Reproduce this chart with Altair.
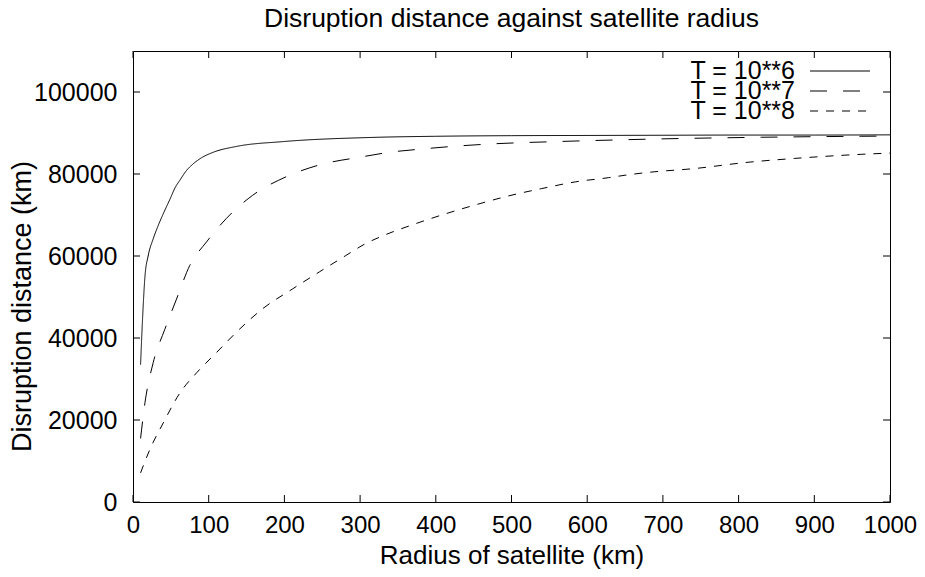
import altair as alt
import pandas as pd

# ---- data ----
series_labels = ["T = 10**6", "T = 10**7", "T = 10**8"]

x_t6 = [10, 12.7, 15.8, 20, 26.7, 33, 39, 48.7, 56, 62, 70, 79, 90, 106, 136, 198, 312, 400, 500, 600, 700,
        800, 900, 1000]
y_t6 = [33500, 45000, 55000, 60000, 64200, 67300, 69900, 73800, 76800, 78500, 80700, 82400, 83900, 85300,
        86700, 87900, 88900, 89200, 89350, 89400, 89450, 89500, 89500, 89550]

x_t7 = [10, 15.8, 26.7, 42, 57.5, 75, 97, 123, 158, 202, 246, 303, 339, 382, 427, 470, 558, 606, 694, 830, 962, 1000]
y_t7 = [15500, 24200, 34000, 42100, 49500, 57700, 63400, 69100, 74800, 79300, 82200, 84200, 85300, 86100,
        86800, 87300, 87900, 88150, 88550, 88960, 89200, 89250]

x_t8 = [10, 22, 40, 62, 84, 110, 141, 171, 211, 246, 281, 307, 329, 369, 413, 453, 496, 540, 585, 628, 650,
        681, 743, 809, 874, 962, 1000]
y_t8 = [7100, 12700, 19300, 26600, 31500, 36400, 42200, 47100, 52000, 56100, 60100, 63000, 64850, 67600,
        70300, 72500, 74650, 76450, 78100, 79100, 79700, 80400, 81350, 82800, 83800, 84800, 85100]

x_ticks = [0, 100, 200, 300, 400, 500, 600, 700, 800, 900, 1000]
y_ticks = [0, 20000, 40000, 60000, 80000, 100000]

title_text = "Disruption distance against satellite radius"
x_title = "Radius of satellite (km)"
y_title = "Disruption distance (km)"

# ---- layout / style ----
FONT = "Liberation Sans, Arial, sans-serif"
W, H = 757, 451
TICK = 7
dashes = [[1, 0], [17, 16], [8, 8]]

rows = []
for lab, xs, ys in zip(series_labels, [x_t6, x_t7, x_t8], [y_t6, y_t7, y_t8]):
    for a, b in zip(xs, ys):
        rows.append({"series": lab, "r": a, "d": b})
df = pd.DataFrame(rows)

xscale = alt.Scale(domain=[0, 1000], nice=False, zero=False)
yscale = alt.Scale(domain=[0, 110000], nice=False)

x_axis = alt.Axis(values=x_ticks, format="d", title=x_title, labelPadding=11, labelFontSize=24,
                  labelOverlap=False, labelFlush=False, titleFontSize=26,
                  titleBaseline="alphabetic", titleY=61)
y_axis = alt.Axis(values=y_ticks, format="d", title=y_title, labelPadding=16, labelFontSize=25,
                  labelOverlap=False, labelFlush=False, titleFontSize=27,
                  titleBaseline="bottom", titleX=-97, titleY=255)

lines = alt.Chart(df).mark_line(color="black", strokeWidth=1, interpolate="monotone").encode(
    x=alt.X("r:Q", scale=xscale, axis=x_axis),
    y=alt.Y("d:Q", scale=yscale, axis=y_axis),
    strokeDash=alt.StrokeDash("series:N", scale=alt.Scale(domain=series_labels, range=dashes), legend=None),
    detail="series:N",
)

xt = pd.DataFrame({"r": x_ticks})
yt = pd.DataFrame({"d": y_ticks})

tick_layers = [
    alt.Chart(xt).mark_rule(color="black", strokeWidth=1).encode(
        x=alt.X("r:Q", scale=xscale, axis=x_axis), y=alt.value(H), y2=alt.value(H - TICK)),
    alt.Chart(xt).mark_rule(color="black", strokeWidth=1).encode(
        x=alt.X("r:Q", scale=xscale, axis=x_axis), y=alt.value(0), y2=alt.value(TICK)),
    alt.Chart(yt).mark_rule(color="black", strokeWidth=1).encode(
        y=alt.Y("d:Q", scale=yscale, axis=y_axis), x=alt.value(0), x2=alt.value(TICK)),
    alt.Chart(yt).mark_rule(color="black", strokeWidth=1).encode(
        y=alt.Y("d:Q", scale=yscale, axis=y_axis), x=alt.value(W), x2=alt.value(W - TICK)),
]

legend_layers = []
legend_y = [20, 40, 60]
for lab, dash, ly in zip(series_labels, dashes, legend_y):
    ldf = pd.DataFrame({"label": [lab]})
    legend_layers.append(
        alt.Chart(ldf).mark_text(align="right", baseline="middle", fontSize=25, font=FONT, color="black").encode(
            text="label:N", x=alt.value(662), y=alt.value(ly)))
    legend_layers.append(
        alt.Chart(ldf).mark_rule(color="black", strokeWidth=1, strokeDash=dash).encode(
            x=alt.value(677), x2=alt.value(737), y=alt.value(ly)))

chart = alt.layer(lines, *tick_layers, *legend_layers).properties(
    width=W, height=H,
    autosize="none",
    padding={"left": 125, "top": 43, "right": 27, "bottom": 67},
    title=alt.TitleParams(title_text, fontSize=26.5, font=FONT, fontWeight="normal", color="black",
                          offset=18, anchor="middle"),
).configure_view(stroke="black", strokeWidth=1).configure_axis(
    grid=False, domain=False, ticks=False, tickSize=0,
    labelFont=FONT, labelColor="black",
    titleFont=FONT, titleFontWeight="normal", titleColor="black",
)

chart.save("out.html", embed_options={"renderer": "svg", "actions": False})
